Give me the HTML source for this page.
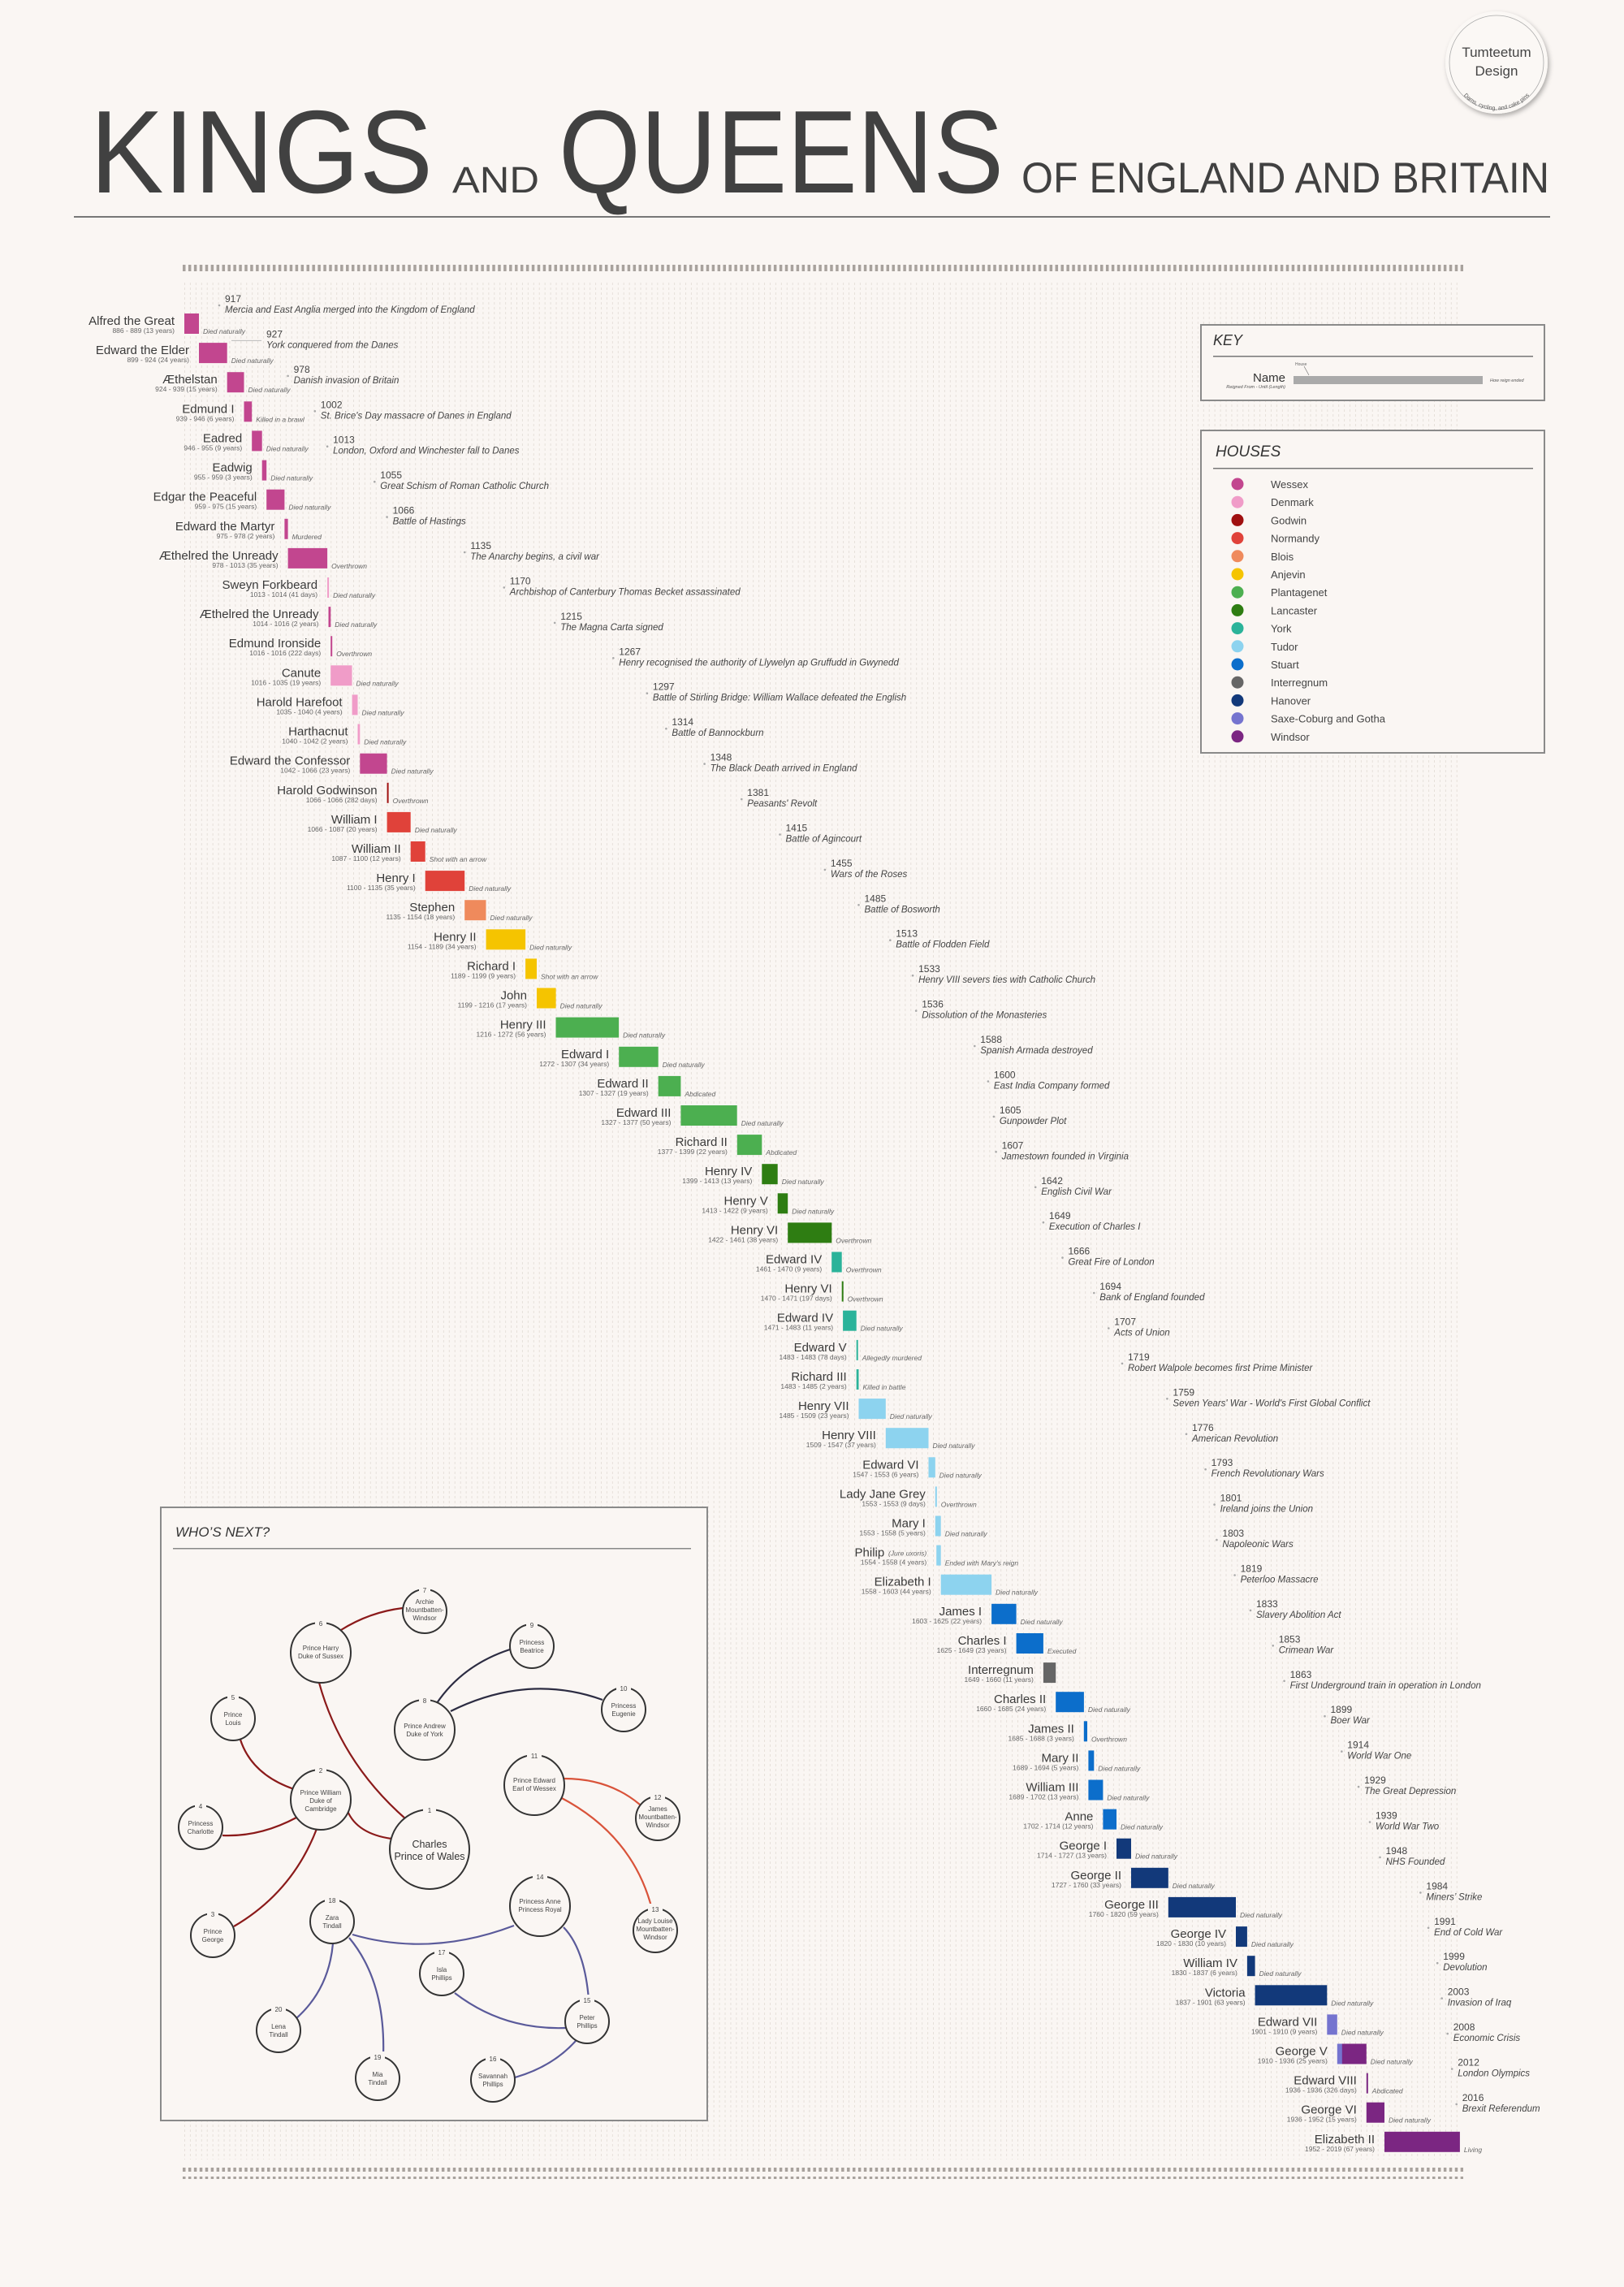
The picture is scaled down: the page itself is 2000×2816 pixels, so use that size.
<!DOCTYPE html>
<html><head><meta charset="utf-8"><style>
html,body{margin:0;padding:0;background:#faf6f3;}
svg{display:block}
.n{font:15px "Liberation Sans",sans-serif;fill:#3a3a3a;text-anchor:end}
.d{font:8.5px "Liberation Sans",sans-serif;fill:#666;text-anchor:end}
.e{font:italic 8.5px "Liberation Sans",sans-serif;fill:#666}
.ey{font:12px "Liberation Sans",sans-serif;fill:#444}
.ed{font:italic 11.5px "Liberation Sans",sans-serif;fill:#444}
.hl{font:13px "Liberation Sans",sans-serif;fill:#444}
.cl{font:8px "Liberation Sans",sans-serif;fill:#444;text-anchor:middle}
.cn{font:8px "Liberation Sans",sans-serif;fill:#444;text-anchor:middle}
</style></head><body>
<svg width="2000" height="2816" viewBox="0 0 2000 2816" xmlns="http://www.w3.org/2000/svg">
<defs>
<pattern id="grid" x="227" y="0" width="6.9325" height="6" patternUnits="userSpaceOnUse">
<rect x="0" y="0" width="1" height="3" fill="#e6e0da"/>
</pattern>
<pattern id="tick" x="224" y="0" width="6.9325" height="20" patternUnits="userSpaceOnUse">
<rect x="1" y="0" width="3.5" height="14" fill="#a8a29d"/>
</pattern>
<filter id="sh" x="-20%" y="-20%" width="140%" height="140%"><feDropShadow dx="2" dy="3" stdDeviation="3" flood-color="#000" flood-opacity="0.3"/></filter>
<path id="arc" d="M1790,95 A55,55 0 0 0 1896,95"/>
</defs>
<rect width="2000" height="2816" fill="#faf6f3"/>

<!-- Title -->
<text x="111" y="237" font-family="Liberation Sans" font-size="145" fill="#414141" textLength="422" lengthAdjust="spacingAndGlyphs">KINGS</text>
<text x="557" y="237" font-family="Liberation Sans" font-size="45" fill="#414141" textLength="107" lengthAdjust="spacingAndGlyphs">AND</text>
<text x="688" y="237" font-family="Liberation Sans" font-size="145" fill="#414141" textLength="548" lengthAdjust="spacingAndGlyphs">QUEENS</text>
<text x="1258" y="237" font-family="Liberation Sans" font-size="53" fill="#414141" textLength="650" lengthAdjust="spacingAndGlyphs">OF ENGLAND AND BRITAIN</text>
<rect x="91" y="266" width="1818" height="2" fill="#777"/>

<!-- Logo -->
<circle cx="1843" cy="77" r="63" fill="#fbf8f5" filter="url(#sh)"/>
<circle cx="1843" cy="77" r="58" fill="none" stroke="#aaa" stroke-width="0.8"/>
<text x="1843" y="70" font-family="Liberation Sans" font-size="17" fill="#444" text-anchor="middle">Tumteetum</text>
<text x="1843" y="93" font-family="Liberation Sans" font-size="17" fill="#444" text-anchor="middle">Design</text>
<text font-family="Liberation Sans" font-size="7" fill="#555"><textPath href="#arc" startOffset="50%" text-anchor="middle">Dams, cycling, and cake pins</textPath></text>

<!-- grid & ticks -->
<rect x="226" y="347" width="1574" height="2312" fill="url(#grid)"/>
<rect x="224" y="326" width="1578" height="14" fill="url(#tick)"/>
<rect x="224" y="2669" width="1578" height="14" fill="url(#tick)"/>

<!-- Key -->
<rect x="1479" y="400" width="423" height="93" fill="#faf6f3" stroke="#8a8a8a" stroke-width="2"/>
<text x="1494" y="425" font-family="Liberation Sans" font-style="italic" font-size="18" fill="#333">KEY</text>
<rect x="1494" y="438" width="394" height="1.5" fill="#777"/>
<text x="1583" y="470" font-family="Liberation Sans" font-size="15" fill="#333" text-anchor="end">Name</text>
<text x="1583" y="478" font-family="Liberation Sans" font-style="italic" font-size="5.5" fill="#555" text-anchor="end">Reigned From - Until (Length)</text>
<rect x="1593" y="463" width="233" height="10" fill="#aaa"/>
<text x="1595" y="450" font-family="Liberation Sans" font-size="5" fill="#666">House</text>
<line x1="1606" y1="451" x2="1612" y2="462" stroke="#666" stroke-width="0.6"/>
<text x="1835" y="470" font-family="Liberation Sans" font-style="italic" font-size="5.5" fill="#555">How reign ended</text>

<!-- Houses -->
<rect x="1479" y="530" width="423" height="397" fill="#faf6f3" stroke="#8a8a8a" stroke-width="2"/>
<text x="1497" y="562" font-family="Liberation Sans" font-style="italic" font-size="19" fill="#333">HOUSES</text>
<rect x="1494" y="576" width="394" height="1.5" fill="#777"/>
<g>
<circle cx="1524" cy="596" r="7.5" fill="#c2468f"/><text class="hl" x="1565" y="601">Wessex</text>
<circle cx="1524" cy="618.2" r="7.5" fill="#f09cc8"/><text class="hl" x="1565" y="623.2">Denmark</text>
<circle cx="1524" cy="640.4" r="7.5" fill="#a01010"/><text class="hl" x="1565" y="645.4">Godwin</text>
<circle cx="1524" cy="662.6" r="7.5" fill="#e0423a"/><text class="hl" x="1565" y="667.6">Normandy</text>
<circle cx="1524" cy="684.8" r="7.5" fill="#ef8a5c"/><text class="hl" x="1565" y="689.8">Blois</text>
<circle cx="1524" cy="707" r="7.5" fill="#f5c400"/><text class="hl" x="1565" y="712">Anjevin</text>
<circle cx="1524" cy="729.2" r="7.5" fill="#4caf50"/><text class="hl" x="1565" y="734.2">Plantagenet</text>
<circle cx="1524" cy="751.4" r="7.5" fill="#2e7d12"/><text class="hl" x="1565" y="756.4">Lancaster</text>
<circle cx="1524" cy="773.6" r="7.5" fill="#2bb39a"/><text class="hl" x="1565" y="778.6">York</text>
<circle cx="1524" cy="795.8" r="7.5" fill="#8dd3ef"/><text class="hl" x="1565" y="800.8">Tudor</text>
<circle cx="1524" cy="818" r="7.5" fill="#0c6ecb"/><text class="hl" x="1565" y="823">Stuart</text>
<circle cx="1524" cy="840.2" r="7.5" fill="#666666"/><text class="hl" x="1565" y="845.2">Interregnum</text>
<circle cx="1524" cy="862.4" r="7.5" fill="#12397a"/><text class="hl" x="1565" y="867.4">Hanover</text>
<circle cx="1524" cy="884.6" r="7.5" fill="#7574cf"/><text class="hl" x="1565" y="889.6">Saxe-Coburg and Gotha</text>
<circle cx="1524" cy="906.8" r="7.5" fill="#7b2682"/><text class="hl" x="1565" y="911.8">Windsor</text>
</g>

<!-- Who's next -->
<rect x="198" y="1856" width="673" height="755" fill="#faf6f3" stroke="#8a8a8a" stroke-width="2"/>
<text x="216" y="1892" font-family="Liberation Sans" font-style="italic" font-size="17" fill="#333">WHO’S NEXT?</text>
<rect x="213" y="1906" width="638" height="1.5" fill="#888"/>
<g fill="none" stroke-width="2.2">
<g stroke="#8b1a1a">
<path d="M482,2264 Q440,2258 428,2230"/>
<path d="M500,2240 Q420,2170 393,2072"/>
<path d="M362,2203 Q310,2185 296,2142"/>
<path d="M365,2238 Q320,2262 274,2260"/>
<path d="M390,2252 Q360,2330 288,2372"/>
<path d="M420,2007 Q455,1985 496,1980"/>
</g>
<g stroke="#2c2c42">
<path d="M538,2097 Q570,2050 628,2031"/>
<path d="M555,2107 Q650,2060 742,2093"/>
</g>
<g stroke="#d9533a">
<path d="M695,2190 Q750,2190 788,2222"/>
<path d="M690,2213 Q780,2260 803,2351"/>
</g>
<g stroke="#5a5a9a">
<path d="M633,2371 Q530,2410 434,2382"/>
<path d="M694,2373 Q720,2400 725,2462"/>
<path d="M410,2393 Q405,2450 364,2486"/>
<path d="M430,2386 Q475,2440 472,2532"/>
<path d="M560,2454 Q620,2500 697,2497"/>
<path d="M709,2513 Q680,2545 634,2558"/>
</g>
</g>
<g fill="#faf6f3" stroke="#333" stroke-width="2">
<circle cx="529" cy="2277" r="49"/>
<circle cx="395" cy="2216" r="37"/>
<circle cx="262" cy="2383" r="27"/>
<circle cx="247" cy="2250" r="27"/>
<circle cx="287" cy="2116" r="27"/>
<circle cx="395" cy="2035" r="37"/>
<circle cx="523" cy="1984" r="27"/>
<circle cx="523" cy="2130" r="37"/>
<circle cx="655" cy="2027" r="27"/>
<circle cx="768" cy="2105" r="27"/>
<circle cx="658" cy="2198" r="37"/>
<circle cx="810" cy="2239" r="27"/>
<circle cx="807" cy="2377" r="27"/>
<circle cx="665" cy="2347" r="37"/>
<circle cx="723" cy="2489" r="27"/>
<circle cx="607" cy="2561" r="27"/>
<circle cx="544" cy="2430" r="27"/>
<circle cx="409" cy="2366" r="27"/>
<circle cx="465" cy="2559" r="27"/>
<circle cx="343" cy="2500" r="27"/>
</g>
<g fill="#faf6f3">
<rect x="521" y="2222" width="16" height="12"/>
<rect x="388" y="2173" width="14" height="12"/>
<rect x="255" y="2350" width="14" height="12"/>
<rect x="240" y="2217" width="14" height="12"/>
<rect x="280" y="2083" width="14" height="12"/>
<rect x="388" y="1992" width="14" height="12"/>
<rect x="516" y="1951" width="14" height="12"/>
<rect x="516" y="2087" width="14" height="12"/>
<rect x="648" y="1994" width="14" height="12"/>
<rect x="759" y="2072" width="18" height="12"/>
<rect x="649" y="2155" width="18" height="12"/>
<rect x="801" y="2206" width="18" height="12"/>
<rect x="798" y="2344" width="18" height="12"/>
<rect x="656" y="2304" width="18" height="12"/>
<rect x="714" y="2456" width="18" height="12"/>
<rect x="598" y="2528" width="18" height="12"/>
<rect x="535" y="2397" width="18" height="12"/>
<rect x="400" y="2333" width="18" height="12"/>
<rect x="456" y="2526" width="18" height="12"/>
<rect x="334" y="2467" width="18" height="12"/>
</g>
<g class="cn">
<text class="cn" x="529" y="2232" font-size="11">1</text>
<text class="cn" x="395" y="2183">2</text>
<text class="cn" x="262" y="2360">3</text>
<text class="cn" x="247" y="2227">4</text>
<text class="cn" x="287" y="2093">5</text>
<text class="cn" x="395" y="2002">6</text>
<text class="cn" x="523" y="1961">7</text>
<text class="cn" x="523" y="2097">8</text>
<text class="cn" x="655" y="2004">9</text>
<text class="cn" x="768" y="2082">10</text>
<text class="cn" x="658" y="2165">11</text>
<text class="cn" x="810" y="2216">12</text>
<text class="cn" x="807" y="2354">13</text>
<text class="cn" x="665" y="2314">14</text>
<text class="cn" x="723" y="2466">15</text>
<text class="cn" x="607" y="2538">16</text>
<text class="cn" x="544" y="2407">17</text>
<text class="cn" x="409" y="2343">18</text>
<text class="cn" x="465" y="2536">19</text>
<text class="cn" x="343" y="2477">20</text>
</g>
<text x="529" y="2275" font-family="Liberation Sans" font-size="12.5" fill="#333" text-anchor="middle">Charles</text>
<text x="529" y="2290" font-family="Liberation Sans" font-size="12.5" fill="#333" text-anchor="middle">Prince of Wales</text>
<text class="cl" x="395" y="2210">Prince William</text><text class="cl" x="395" y="2220">Duke of</text><text class="cl" x="395" y="2230">Cambridge</text>
<text class="cl" x="262" y="2381">Prince</text><text class="cl" x="262" y="2391">George</text>
<text class="cl" x="247" y="2248">Princess</text><text class="cl" x="247" y="2258">Charlotte</text>
<text class="cl" x="287" y="2114">Prince</text><text class="cl" x="287" y="2124">Louis</text>
<text class="cl" x="395" y="2032">Prince Harry</text><text class="cl" x="395" y="2042">Duke of Sussex</text>
<text class="cl" x="523" y="1975">Archie</text><text class="cl" x="523" y="1985">Mountbatten-</text><text class="cl" x="523" y="1995">Windsor</text>
<text class="cl" x="523" y="2128">Prince Andrew</text><text class="cl" x="523" y="2138">Duke of York</text>
<text class="cl" x="655" y="2025">Princess</text><text class="cl" x="655" y="2035">Beatrice</text>
<text class="cl" x="768" y="2103">Princess</text><text class="cl" x="768" y="2113">Eugenie</text>
<text class="cl" x="658" y="2195">Prince Edward</text><text class="cl" x="658" y="2205">Earl of Wessex</text>
<text class="cl" x="810" y="2230">James</text><text class="cl" x="810" y="2240">Mountbatten-</text><text class="cl" x="810" y="2250">Windsor</text>
<text class="cl" x="807" y="2368">Lady Louise</text><text class="cl" x="807" y="2378">Mountbatten-</text><text class="cl" x="807" y="2388">Windsor</text>
<text class="cl" x="665" y="2344">Princess Anne</text><text class="cl" x="665" y="2354">Princess Royal</text>
<text class="cl" x="723" y="2487">Peter</text><text class="cl" x="723" y="2497">Phillips</text>
<text class="cl" x="607" y="2559">Savannah</text><text class="cl" x="607" y="2569">Phillips</text>
<text class="cl" x="544" y="2428">Isla</text><text class="cl" x="544" y="2438">Phillips</text>
<text class="cl" x="409" y="2364">Zara</text><text class="cl" x="409" y="2374">Tindall</text>
<text class="cl" x="465" y="2557">Mia</text><text class="cl" x="465" y="2567">Tindall</text>
<text class="cl" x="343" y="2498">Lena</text><text class="cl" x="343" y="2508">Tindall</text>

<!-- Events -->
<g>
<g transform="translate(270,372)"><circle cx="0" cy="4" r="1.3" fill="#aaa"/><text class="ey" x="7" y="0">917</text><text class="ed" x="7" y="13">Mercia and East Anglia merged into the Kingdom of England</text></g>
<g transform="translate(284,415.4)"><line x1="1" y1="4" x2="38" y2="4" stroke="#bbb" stroke-width="1"/><text class="ey" x="44" y="0">927</text><text class="ed" x="44" y="13">York conquered from the Danes</text></g>
<g transform="translate(354.6,458.9)"><circle cx="0" cy="4" r="1.3" fill="#aaa"/><text class="ey" x="7" y="0">978</text><text class="ed" x="7" y="13">Danish invasion of Britain</text></g>
<g transform="translate(387.8,502.3)"><circle cx="0" cy="4" r="1.3" fill="#aaa"/><text class="ey" x="7" y="0">1002</text><text class="ed" x="7" y="13">St. Brice's Day massacre of Danes in England</text></g>
<g transform="translate(403.1,545.7)"><circle cx="0" cy="4" r="1.3" fill="#aaa"/><text class="ey" x="7" y="0">1013</text><text class="ed" x="7" y="13">London, Oxford and Winchester fall to Danes</text></g>
<g transform="translate(461.3,589.2)"><circle cx="0" cy="4" r="1.3" fill="#aaa"/><text class="ey" x="7" y="0">1055</text><text class="ed" x="7" y="13">Great Schism of Roman Catholic Church</text></g>
<g transform="translate(476.6,632.6)"><circle cx="0" cy="4" r="1.3" fill="#aaa"/><text class="ey" x="7" y="0">1066</text><text class="ed" x="7" y="13">Battle of Hastings</text></g>
<g transform="translate(572.2,676)"><circle cx="0" cy="4" r="1.3" fill="#aaa"/><text class="ey" x="7" y="0">1135</text><text class="ed" x="7" y="13">The Anarchy begins, a civil war</text></g>
<g transform="translate(620.8,719.4)"><circle cx="0" cy="4" r="1.3" fill="#aaa"/><text class="ey" x="7" y="0">1170</text><text class="ed" x="7" y="13">Archbishop of Canterbury Thomas Becket assassinated</text></g>
<g transform="translate(683.2,762.9)"><circle cx="0" cy="4" r="1.3" fill="#aaa"/><text class="ey" x="7" y="0">1215</text><text class="ed" x="7" y="13">The Magna Carta signed</text></g>
<g transform="translate(755.3,806.3)"><circle cx="0" cy="4" r="1.3" fill="#aaa"/><text class="ey" x="7" y="0">1267</text><text class="ed" x="7" y="13">Henry recognised the authority of Llywelyn ap Gruffudd in Gwynedd</text></g>
<g transform="translate(796.9,849.7)"><circle cx="0" cy="4" r="1.3" fill="#aaa"/><text class="ey" x="7" y="0">1297</text><text class="ed" x="7" y="13">Battle of Stirling Bridge: William Wallace defeated the English</text></g>
<g transform="translate(820.4,893.2)"><circle cx="0" cy="4" r="1.3" fill="#aaa"/><text class="ey" x="7" y="0">1314</text><text class="ed" x="7" y="13">Battle of Bannockburn</text></g>
<g transform="translate(867.6,936.6)"><circle cx="0" cy="4" r="1.3" fill="#aaa"/><text class="ey" x="7" y="0">1348</text><text class="ed" x="7" y="13">The Black Death arrived in England</text></g>
<g transform="translate(913.3,980)"><circle cx="0" cy="4" r="1.3" fill="#aaa"/><text class="ey" x="7" y="0">1381</text><text class="ed" x="7" y="13">Peasants' Revolt</text></g>
<g transform="translate(960.5,1023.5)"><circle cx="0" cy="4" r="1.3" fill="#aaa"/><text class="ey" x="7" y="0">1415</text><text class="ed" x="7" y="13">Battle of Agincourt</text></g>
<g transform="translate(1015.9,1066.9)"><circle cx="0" cy="4" r="1.3" fill="#aaa"/><text class="ey" x="7" y="0">1455</text><text class="ed" x="7" y="13">Wars of the Roses</text></g>
<g transform="translate(1057.5,1110.3)"><circle cx="0" cy="4" r="1.3" fill="#aaa"/><text class="ey" x="7" y="0">1485</text><text class="ed" x="7" y="13">Battle of Bosworth</text></g>
<g transform="translate(1096.3,1153.7)"><circle cx="0" cy="4" r="1.3" fill="#aaa"/><text class="ey" x="7" y="0">1513</text><text class="ed" x="7" y="13">Battle of Flodden Field</text></g>
<g transform="translate(1124.1,1197.2)"><circle cx="0" cy="4" r="1.3" fill="#aaa"/><text class="ey" x="7" y="0">1533</text><text class="ed" x="7" y="13">Henry VIII severs ties with Catholic Church</text></g>
<g transform="translate(1128.2,1240.6)"><circle cx="0" cy="4" r="1.3" fill="#aaa"/><text class="ey" x="7" y="0">1536</text><text class="ed" x="7" y="13">Dissolution of the Monasteries</text></g>
<g transform="translate(1200.3,1284)"><circle cx="0" cy="4" r="1.3" fill="#aaa"/><text class="ey" x="7" y="0">1588</text><text class="ed" x="7" y="13">Spanish Armada destroyed</text></g>
<g transform="translate(1216.9,1327.5)"><circle cx="0" cy="4" r="1.3" fill="#aaa"/><text class="ey" x="7" y="0">1600</text><text class="ed" x="7" y="13">East India Company formed</text></g>
<g transform="translate(1223.9,1370.9)"><circle cx="0" cy="4" r="1.3" fill="#aaa"/><text class="ey" x="7" y="0">1605</text><text class="ed" x="7" y="13">Gunpowder Plot</text></g>
<g transform="translate(1226.6,1414.3)"><circle cx="0" cy="4" r="1.3" fill="#aaa"/><text class="ey" x="7" y="0">1607</text><text class="ed" x="7" y="13">Jamestown founded in Virginia</text></g>
<g transform="translate(1275.2,1457.8)"><circle cx="0" cy="4" r="1.3" fill="#aaa"/><text class="ey" x="7" y="0">1642</text><text class="ed" x="7" y="13">English Civil War</text></g>
<g transform="translate(1284.9,1501.2)"><circle cx="0" cy="4" r="1.3" fill="#aaa"/><text class="ey" x="7" y="0">1649</text><text class="ed" x="7" y="13">Execution of Charles I</text></g>
<g transform="translate(1308.5,1544.6)"><circle cx="0" cy="4" r="1.3" fill="#aaa"/><text class="ey" x="7" y="0">1666</text><text class="ed" x="7" y="13">Great Fire of London</text></g>
<g transform="translate(1347.3,1588)"><circle cx="0" cy="4" r="1.3" fill="#aaa"/><text class="ey" x="7" y="0">1694</text><text class="ed" x="7" y="13">Bank of England founded</text></g>
<g transform="translate(1365.3,1631.5)"><circle cx="0" cy="4" r="1.3" fill="#aaa"/><text class="ey" x="7" y="0">1707</text><text class="ed" x="7" y="13">Acts of Union</text></g>
<g transform="translate(1382,1674.9)"><circle cx="0" cy="4" r="1.3" fill="#aaa"/><text class="ey" x="7" y="0">1719</text><text class="ed" x="7" y="13">Robert Walpole becomes first Prime Minister</text></g>
<g transform="translate(1437.4,1718.3)"><circle cx="0" cy="4" r="1.3" fill="#aaa"/><text class="ey" x="7" y="0">1759</text><text class="ed" x="7" y="13">Seven Years' War - World's First Global Conflict</text></g>
<g transform="translate(1461,1761.8)"><circle cx="0" cy="4" r="1.3" fill="#aaa"/><text class="ey" x="7" y="0">1776</text><text class="ed" x="7" y="13">American Revolution</text></g>
<g transform="translate(1484.6,1805.2)"><circle cx="0" cy="4" r="1.3" fill="#aaa"/><text class="ey" x="7" y="0">1793</text><text class="ed" x="7" y="13">French Revolutionary Wars</text></g>
<g transform="translate(1495.6,1848.6)"><circle cx="0" cy="4" r="1.3" fill="#aaa"/><text class="ey" x="7" y="0">1801</text><text class="ed" x="7" y="13">Ireland joins the Union</text></g>
<g transform="translate(1498.4,1892.1)"><circle cx="0" cy="4" r="1.3" fill="#aaa"/><text class="ey" x="7" y="0">1803</text><text class="ed" x="7" y="13">Napoleonic Wars</text></g>
<g transform="translate(1520.6,1935.5)"><circle cx="0" cy="4" r="1.3" fill="#aaa"/><text class="ey" x="7" y="0">1819</text><text class="ed" x="7" y="13">Peterloo Massacre</text></g>
<g transform="translate(1540,1978.9)"><circle cx="0" cy="4" r="1.3" fill="#aaa"/><text class="ey" x="7" y="0">1833</text><text class="ed" x="7" y="13">Slavery Abolition Act</text></g>
<g transform="translate(1567.7,2022.3)"><circle cx="0" cy="4" r="1.3" fill="#aaa"/><text class="ey" x="7" y="0">1853</text><text class="ed" x="7" y="13">Crimean War</text></g>
<g transform="translate(1581.6,2065.8)"><circle cx="0" cy="4" r="1.3" fill="#aaa"/><text class="ey" x="7" y="0">1863</text><text class="ed" x="7" y="13">First Underground train in operation in London</text></g>
<g transform="translate(1631.5,2109.2)"><circle cx="0" cy="4" r="1.3" fill="#aaa"/><text class="ey" x="7" y="0">1899</text><text class="ed" x="7" y="13">Boer War</text></g>
<g transform="translate(1652.3,2152.6)"><circle cx="0" cy="4" r="1.3" fill="#aaa"/><text class="ey" x="7" y="0">1914</text><text class="ed" x="7" y="13">World War One</text></g>
<g transform="translate(1673.1,2196.1)"><circle cx="0" cy="4" r="1.3" fill="#aaa"/><text class="ey" x="7" y="0">1929</text><text class="ed" x="7" y="13">The Great Depression</text></g>
<g transform="translate(1687,2239.5)"><circle cx="0" cy="4" r="1.3" fill="#aaa"/><text class="ey" x="7" y="0">1939</text><text class="ed" x="7" y="13">World War Two</text></g>
<g transform="translate(1699.5,2282.9)"><circle cx="0" cy="4" r="1.3" fill="#aaa"/><text class="ey" x="7" y="0">1948</text><text class="ed" x="7" y="13">NHS Founded</text></g>
<g transform="translate(1749.4,2326.4)"><circle cx="0" cy="4" r="1.3" fill="#aaa"/><text class="ey" x="7" y="0">1984</text><text class="ed" x="7" y="13">Miners’ Strike</text></g>
<g transform="translate(1759.1,2369.8)"><circle cx="0" cy="4" r="1.3" fill="#aaa"/><text class="ey" x="7" y="0">1991</text><text class="ed" x="7" y="13">End of Cold War</text></g>
<g transform="translate(1770.2,2413.2)"><circle cx="0" cy="4" r="1.3" fill="#aaa"/><text class="ey" x="7" y="0">1999</text><text class="ed" x="7" y="13">Devolution</text></g>
<g transform="translate(1775.7,2456.6)"><circle cx="0" cy="4" r="1.3" fill="#aaa"/><text class="ey" x="7" y="0">2003</text><text class="ed" x="7" y="13">Invasion of Iraq</text></g>
<g transform="translate(1782.7,2500.1)"><circle cx="0" cy="4" r="1.3" fill="#aaa"/><text class="ey" x="7" y="0">2008</text><text class="ed" x="7" y="13">Economic Crisis</text></g>
<g transform="translate(1788.2,2543.5)"><circle cx="0" cy="4" r="1.3" fill="#aaa"/><text class="ey" x="7" y="0">2012</text><text class="ed" x="7" y="13">London Olympics</text></g>
<g transform="translate(1793.7,2586.9)"><circle cx="0" cy="4" r="1.3" fill="#aaa"/><text class="ey" x="7" y="0">2016</text><text class="ed" x="7" y="13">Brexit Referendum</text></g>
</g>

<!-- Monarchs -->
<g>
<g transform="translate(227,386)"><rect width="18" height="25" fill="#c2468f"/><text class="n" x="-12" y="14">Alfred the Great</text><text class="d" x="-12" y="24">886 - 889 (13 years)</text><text class="e" x="23" y="25">Died naturally</text></g>
<g transform="translate(245,422.1)"><rect width="34.7" height="25" fill="#c2468f"/><text class="n" x="-12" y="14">Edward the Elder</text><text class="d" x="-12" y="24">899 - 924 (24 years)</text><text class="e" x="39.7" y="25">Died naturally</text></g>
<g transform="translate(279.7,458.2)"><rect width="20.8" height="25" fill="#c2468f"/><text class="n" x="-12" y="14">Æthelstan</text><text class="d" x="-12" y="24">924 - 939 (15 years)</text><text class="e" x="25.8" y="25">Died naturally</text></g>
<g transform="translate(300.5,494.3)"><rect width="9.7" height="25" fill="#c2468f"/><text class="n" x="-12" y="14">Edmund I</text><text class="d" x="-12" y="24">939 - 946 (6 years)</text><text class="e" x="14.7" y="25">Killed in a brawl</text></g>
<g transform="translate(310.2,530.4)"><rect width="12.5" height="25" fill="#c2468f"/><text class="n" x="-12" y="14">Eadred</text><text class="d" x="-12" y="24">946 - 955 (9 years)</text><text class="e" x="17.5" y="25">Died naturally</text></g>
<g transform="translate(322.7,566.6)"><rect width="5.5" height="25" fill="#c2468f"/><text class="n" x="-12" y="14">Eadwig</text><text class="d" x="-12" y="24">955 - 959 (3 years)</text><text class="e" x="10.5" y="25">Died naturally</text></g>
<g transform="translate(328.2,602.7)"><rect width="22.2" height="25" fill="#c2468f"/><text class="n" x="-12" y="14">Edgar the Peaceful</text><text class="d" x="-12" y="24">959 - 975 (15 years)</text><text class="e" x="27.2" y="25">Died naturally</text></g>
<g transform="translate(350.4,638.8)"><rect width="4.2" height="25" fill="#c2468f"/><text class="n" x="-12" y="14">Edward the Martyr</text><text class="d" x="-12" y="24">975 - 978 (2 years)</text><text class="e" x="9.2" y="25">Murdered</text></g>
<g transform="translate(354.6,674.9)"><rect width="48.5" height="25" fill="#c2468f"/><text class="n" x="-12" y="14">Æthelred the Unready</text><text class="d" x="-12" y="24">978 - 1013 (35 years)</text><text class="e" x="53.5" y="25">Overthrown</text></g>
<g transform="translate(403.1,711)"><rect width="2" height="25" fill="#f09cc8"/><text class="n" x="-12" y="14">Sweyn Forkbeard</text><text class="d" x="-12" y="24">1013 - 1014 (41 days)</text><text class="e" x="7" y="25">Died naturally</text></g>
<g transform="translate(404.5,747.1)"><rect width="2.8" height="25" fill="#c2468f"/><text class="n" x="-12" y="14">Æthelred the Unready</text><text class="d" x="-12" y="24">1014 - 1016 (2 years)</text><text class="e" x="7.8" y="25">Died naturally</text></g>
<g transform="translate(407.2,783.2)"><rect width="2" height="25" fill="#c2468f"/><text class="n" x="-12" y="14">Edmund Ironside</text><text class="d" x="-12" y="24">1016 - 1016 (222 days)</text><text class="e" x="7" y="25">Overthrown</text></g>
<g transform="translate(407.2,819.3)"><rect width="26.3" height="25" fill="#f09cc8"/><text class="n" x="-12" y="14">Canute</text><text class="d" x="-12" y="24">1016 - 1035 (19 years)</text><text class="e" x="31.3" y="25">Died naturally</text></g>
<g transform="translate(433.6,855.4)"><rect width="6.9" height="25" fill="#f09cc8"/><text class="n" x="-12" y="14">Harold Harefoot</text><text class="d" x="-12" y="24">1035 - 1040 (4 years)</text><text class="e" x="11.9" y="25">Died naturally</text></g>
<g transform="translate(440.5,891.5)"><rect width="2.8" height="25" fill="#f09cc8"/><text class="n" x="-12" y="14">Harthacnut</text><text class="d" x="-12" y="24">1040 - 1042 (2 years)</text><text class="e" x="7.8" y="25">Died naturally</text></g>
<g transform="translate(443.3,927.7)"><rect width="33.3" height="25" fill="#c2468f"/><text class="n" x="-12" y="14">Edward the Confessor</text><text class="d" x="-12" y="24">1042 - 1066 (23 years)</text><text class="e" x="38.3" y="25">Died naturally</text></g>
<g transform="translate(476.6,963.8)"><rect width="2" height="25" fill="#a01010"/><text class="n" x="-12" y="14">Harold Godwinson</text><text class="d" x="-12" y="24">1066 - 1066 (282 days)</text><text class="e" x="7" y="25">Overthrown</text></g>
<g transform="translate(476.6,999.9)"><rect width="29.1" height="25" fill="#e0423a"/><text class="n" x="-12" y="14">William I</text><text class="d" x="-12" y="24">1066 - 1087 (20 years)</text><text class="e" x="34.1" y="25">Died naturally</text></g>
<g transform="translate(505.7,1036)"><rect width="18" height="25" fill="#e0423a"/><text class="n" x="-12" y="14">William II</text><text class="d" x="-12" y="24">1087 - 1100 (12 years)</text><text class="e" x="23" y="25">Shot with an arrow</text></g>
<g transform="translate(523.7,1072.1)"><rect width="48.5" height="25" fill="#e0423a"/><text class="n" x="-12" y="14">Henry I</text><text class="d" x="-12" y="24">1100 - 1135 (35 years)</text><text class="e" x="53.5" y="25">Died naturally</text></g>
<g transform="translate(572.2,1108.2)"><rect width="26.3" height="25" fill="#ef8a5c"/><text class="n" x="-12" y="14">Stephen</text><text class="d" x="-12" y="24">1135 - 1154 (18 years)</text><text class="e" x="31.3" y="25">Died naturally</text></g>
<g transform="translate(598.6,1144.3)"><rect width="48.5" height="25" fill="#f5c400"/><text class="n" x="-12" y="14">Henry II</text><text class="d" x="-12" y="24">1154 - 1189 (34 years)</text><text class="e" x="53.5" y="25">Died naturally</text></g>
<g transform="translate(647.1,1180.4)"><rect width="13.9" height="25" fill="#f5c400"/><text class="n" x="-12" y="14">Richard I</text><text class="d" x="-12" y="24">1189 - 1199 (9 years)</text><text class="e" x="18.9" y="25">Shot with an arrow</text></g>
<g transform="translate(661,1216.5)"><rect width="23.6" height="25" fill="#f5c400"/><text class="n" x="-12" y="14">John</text><text class="d" x="-12" y="24">1199 - 1216 (17 years)</text><text class="e" x="28.6" y="25">Died naturally</text></g>
<g transform="translate(684.5,1252.6)"><rect width="77.6" height="25" fill="#4caf50"/><text class="n" x="-12" y="14">Henry III</text><text class="d" x="-12" y="24">1216 - 1272 (56 years)</text><text class="e" x="82.6" y="25">Died naturally</text></g>
<g transform="translate(762.2,1288.8)"><rect width="48.5" height="25" fill="#4caf50"/><text class="n" x="-12" y="14">Edward I</text><text class="d" x="-12" y="24">1272 - 1307 (34 years)</text><text class="e" x="53.5" y="25">Died naturally</text></g>
<g transform="translate(810.7,1324.9)"><rect width="27.7" height="25" fill="#4caf50"/><text class="n" x="-12" y="14">Edward II</text><text class="d" x="-12" y="24">1307 - 1327 (19 years)</text><text class="e" x="32.7" y="25">Abdicated</text></g>
<g transform="translate(838.4,1361)"><rect width="69.3" height="25" fill="#4caf50"/><text class="n" x="-12" y="14">Edward III</text><text class="d" x="-12" y="24">1327 - 1377 (50 years)</text><text class="e" x="74.3" y="25">Died naturally</text></g>
<g transform="translate(907.8,1397.1)"><rect width="30.5" height="25" fill="#4caf50"/><text class="n" x="-12" y="14">Richard II</text><text class="d" x="-12" y="24">1377 - 1399 (22 years)</text><text class="e" x="35.5" y="25">Abdicated</text></g>
<g transform="translate(938.3,1433.2)"><rect width="19.4" height="25" fill="#2e7d12"/><text class="n" x="-12" y="14">Henry IV</text><text class="d" x="-12" y="24">1399 - 1413 (13 years)</text><text class="e" x="24.4" y="25">Died naturally</text></g>
<g transform="translate(957.7,1469.3)"><rect width="12.5" height="25" fill="#2e7d12"/><text class="n" x="-12" y="14">Henry V</text><text class="d" x="-12" y="24">1413 - 1422 (9 years)</text><text class="e" x="17.5" y="25">Died naturally</text></g>
<g transform="translate(970.2,1505.4)"><rect width="54.1" height="25" fill="#2e7d12"/><text class="n" x="-12" y="14">Henry VI</text><text class="d" x="-12" y="24">1422 - 1461 (38 years)</text><text class="e" x="59.1" y="25">Overthrown</text></g>
<g transform="translate(1024.2,1541.5)"><rect width="12.5" height="25" fill="#2bb39a"/><text class="n" x="-12" y="14">Edward IV</text><text class="d" x="-12" y="24">1461 - 1470 (9 years)</text><text class="e" x="17.5" y="25">Overthrown</text></g>
<g transform="translate(1036.7,1577.6)"><rect width="2" height="25" fill="#2e7d12"/><text class="n" x="-12" y="14">Henry VI</text><text class="d" x="-12" y="24">1470 - 1471 (197 days)</text><text class="e" x="7" y="25">Overthrown</text></g>
<g transform="translate(1038.1,1613.7)"><rect width="16.6" height="25" fill="#2bb39a"/><text class="n" x="-12" y="14">Edward IV</text><text class="d" x="-12" y="24">1471 - 1483 (11 years)</text><text class="e" x="21.6" y="25">Died naturally</text></g>
<g transform="translate(1054.7,1649.9)"><rect width="2" height="25" fill="#2bb39a"/><text class="n" x="-12" y="14">Edward V</text><text class="d" x="-12" y="24">1483 - 1483 (78 days)</text><text class="e" x="7" y="25">Allegedly murdered</text></g>
<g transform="translate(1054.7,1686)"><rect width="2.8" height="25" fill="#2bb39a"/><text class="n" x="-12" y="14">Richard III</text><text class="d" x="-12" y="24">1483 - 1485 (2 years)</text><text class="e" x="7.8" y="25">Killed in battle</text></g>
<g transform="translate(1057.5,1722.1)"><rect width="33.3" height="25" fill="#8dd3ef"/><text class="n" x="-12" y="14">Henry VII</text><text class="d" x="-12" y="24">1485 - 1509 (23 years)</text><text class="e" x="38.3" y="25">Died naturally</text></g>
<g transform="translate(1090.8,1758.2)"><rect width="52.7" height="25" fill="#8dd3ef"/><text class="n" x="-12" y="14">Henry VIII</text><text class="d" x="-12" y="24">1509 - 1547 (37 years)</text><text class="e" x="57.7" y="25">Died naturally</text></g>
<g transform="translate(1143.5,1794.3)"><rect width="8.3" height="25" fill="#8dd3ef"/><text class="n" x="-12" y="14">Edward VI</text><text class="d" x="-12" y="24">1547 - 1553 (6 years)</text><text class="e" x="13.3" y="25">Died naturally</text></g>
<g transform="translate(1151.8,1830.4)"><rect width="2" height="25" fill="#8dd3ef"/><text class="n" x="-12" y="14">Lady Jane Grey</text><text class="d" x="-12" y="24">1553 - 1553 (9 days)</text><text class="e" x="7" y="25">Overthrown</text></g>
<g transform="translate(1151.8,1866.5)"><rect width="6.9" height="25" fill="#8dd3ef"/><text class="n" x="-12" y="14">Mary I</text><text class="d" x="-12" y="24">1553 - 1558 (5 years)</text><text class="e" x="11.9" y="25">Died naturally</text></g>
<g transform="translate(1153.2,1902.6)"><rect width="5.5" height="25" fill="#8dd3ef"/><text class="n" x="-64" y="14">Philip</text><text class="d" x="-12" y="13" style="font-style:italic">(Jure uxoris)</text><text class="d" x="-12" y="24">1554 - 1558 (4 years)</text><text class="e" x="10.5" y="25">Ended with Mary's reign</text></g>
<g transform="translate(1158.7,1938.7)"><rect width="62.4" height="25" fill="#8dd3ef"/><text class="n" x="-12" y="14">Elizabeth I</text><text class="d" x="-12" y="24">1558 - 1603 (44 years)</text><text class="e" x="67.4" y="25">Died naturally</text></g>
<g transform="translate(1221.1,1974.8)"><rect width="30.5" height="25" fill="#0c6ecb"/><text class="n" x="-12" y="14">James I</text><text class="d" x="-12" y="24">1603 - 1625 (22 years)</text><text class="e" x="35.5" y="25">Died naturally</text></g>
<g transform="translate(1251.6,2011)"><rect width="33.3" height="25" fill="#0c6ecb"/><text class="n" x="-12" y="14">Charles I</text><text class="d" x="-12" y="24">1625 - 1649 (23 years)</text><text class="e" x="38.3" y="25">Executed</text></g>
<g transform="translate(1284.9,2047.1)"><rect width="15.3" height="25" fill="#666666"/><text class="n" x="-12" y="14">Interregnum</text><text class="d" x="-12" y="24">1649 - 1660 (11 years)</text></g>
<g transform="translate(1300.2,2083.2)"><rect width="34.7" height="25" fill="#0c6ecb"/><text class="n" x="-12" y="14">Charles II</text><text class="d" x="-12" y="24">1660 - 1685 (24 years)</text><text class="e" x="39.7" y="25">Died naturally</text></g>
<g transform="translate(1334.8,2119.3)"><rect width="4.2" height="25" fill="#0c6ecb"/><text class="n" x="-12" y="14">James II</text><text class="d" x="-12" y="24">1685 - 1688 (3 years)</text><text class="e" x="9.2" y="25">Overthrown</text></g>
<g transform="translate(1340.4,2155.4)"><rect width="6.9" height="25" fill="#0c6ecb"/><text class="n" x="-12" y="14">Mary II</text><text class="d" x="-12" y="24">1689 - 1694 (5 years)</text><text class="e" x="11.9" y="25">Died naturally</text></g>
<g transform="translate(1340.4,2191.5)"><rect width="18" height="25" fill="#0c6ecb"/><text class="n" x="-12" y="14">William III</text><text class="d" x="-12" y="24">1689 - 1702 (13 years)</text><text class="e" x="23" y="25">Died naturally</text></g>
<g transform="translate(1358.4,2227.6)"><rect width="16.6" height="25" fill="#0c6ecb"/><text class="n" x="-12" y="14">Anne</text><text class="d" x="-12" y="24">1702 - 1714 (12 years)</text><text class="e" x="21.6" y="25">Died naturally</text></g>
<g transform="translate(1375,2263.7)"><rect width="18" height="25" fill="#12397a"/><text class="n" x="-12" y="14">George I</text><text class="d" x="-12" y="24">1714 - 1727 (13 years)</text><text class="e" x="23" y="25">Died naturally</text></g>
<g transform="translate(1393,2299.8)"><rect width="45.8" height="25" fill="#12397a"/><text class="n" x="-12" y="14">George II</text><text class="d" x="-12" y="24">1727 - 1760 (33 years)</text><text class="e" x="50.8" y="25">Died naturally</text></g>
<g transform="translate(1438.8,2335.9)"><rect width="83.2" height="25" fill="#12397a"/><text class="n" x="-12" y="14">George III</text><text class="d" x="-12" y="24">1760 - 1820 (59 years)</text><text class="e" x="88.2" y="25">Died naturally</text></g>
<g transform="translate(1522,2372.1)"><rect width="13.9" height="25" fill="#12397a"/><text class="n" x="-12" y="14">George IV</text><text class="d" x="-12" y="24">1820 - 1830 (10 years)</text><text class="e" x="18.9" y="25">Died naturally</text></g>
<g transform="translate(1535.9,2408.2)"><rect width="9.7" height="25" fill="#12397a"/><text class="n" x="-12" y="14">William IV</text><text class="d" x="-12" y="24">1830 - 1837 (6 years)</text><text class="e" x="14.7" y="25">Died naturally</text></g>
<g transform="translate(1545.6,2444.3)"><rect width="88.7" height="25" fill="#12397a"/><text class="n" x="-12" y="14">Victoria</text><text class="d" x="-12" y="24">1837 - 1901 (63 years)</text><text class="e" x="93.7" y="25">Died naturally</text></g>
<g transform="translate(1634.3,2480.4)"><rect width="12.5" height="25" fill="#7574cf"/><text class="n" x="-12" y="14">Edward VII</text><text class="d" x="-12" y="24">1901 - 1910 (9 years)</text><text class="e" x="17.5" y="25">Died naturally</text></g>
<g transform="translate(1646.8,2516.5)"><rect width="9.7" height="25" fill="#7574cf"/><rect x="6" width="30" height="25" fill="#7b2682"/><text class="n" x="-12" y="14">George V</text><text class="d" x="-12" y="24">1910 - 1936 (25 years)</text><text class="e" x="41" y="25">Died naturally</text></g>
<g transform="translate(1682.8,2552.6)"><rect width="2" height="25" fill="#7b2682"/><text class="n" x="-12" y="14">Edward VIII</text><text class="d" x="-12" y="24">1936 - 1936 (326 days)</text><text class="e" x="7" y="25">Abdicated</text></g>
<g transform="translate(1682.8,2588.7)"><rect width="22.2" height="25" fill="#7b2682"/><text class="n" x="-12" y="14">George VI</text><text class="d" x="-12" y="24">1936 - 1952 (15 years)</text><text class="e" x="27.2" y="25">Died naturally</text></g>
<g transform="translate(1705,2624.8)"><rect width="92.9" height="25" fill="#7b2682"/><text class="n" x="-12" y="14">Elizabeth II</text><text class="d" x="-12" y="24">1952 - 2019 (67 years)</text><text class="e" x="97.9" y="25">Living</text></g>
</g>
</svg>
</body></html>
